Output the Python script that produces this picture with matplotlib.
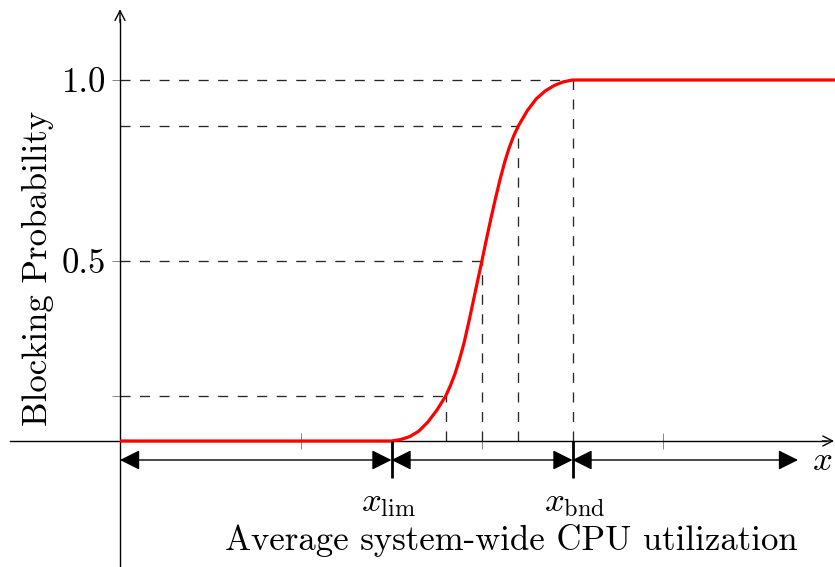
import matplotlib
matplotlib.use("Agg")
import matplotlib.pyplot as plt

plt.rcParams['font.family'] = 'serif'
plt.rcParams['font.serif'] = ['cmr10']
plt.rcParams['mathtext.fontset'] = 'cm'
plt.rcParams['axes.formatter.use_mathtext'] = True

# blocking probability vs. average utilization (x in arbitrary units)
curve_x = [0.0, 1.5, 1.55, 1.6, 1.65, 1.7, 1.75, 1.8, 1.825, 1.85, 1.875, 1.9,
           1.925, 1.95, 1.975, 2.0, 2.025, 2.05, 2.075, 2.1, 2.125, 2.15, 2.175,
           2.2, 2.25, 2.3, 2.35, 2.4, 2.45, 2.5, 3.95]
curve_y = [0.0, 0.0, 0.004, 0.012, 0.027, 0.052, 0.085, 0.125, 0.153, 0.185, 0.225, 0.27,
           0.325, 0.383, 0.442, 0.5, 0.56, 0.618, 0.673, 0.725, 0.772, 0.812, 0.845,
           0.872, 0.915, 0.948, 0.97, 0.985, 0.995, 1.0, 1.0]

# guide points marked with dashed projections onto both axes
guide_x = [1.8, 2.0, 2.2, 2.5]
guide_y = [0.125, 0.5, 0.872, 1.0]

x_lim = 1.5
x_bnd = 2.5
x_end = 3.746

yticks = [0.125, 0.5, 1.0]
ytick_labels = ['', '0.5', '1.0']
xticks = [1, 2, 3]

FS = 25

fig = plt.figure(figsize=(8.35, 5.67), dpi=100)
ax = fig.add_axes([0, 0, 1, 1])
ax.set_xlim(-120 / 181, 715 / 181)
ax.set_ylim(-126 / 361, 441 / 361)
ax.patch.set_alpha(0)

# axes through the origin
for side in ['top', 'right']:
    ax.spines[side].set_visible(False)
ax.spines['left'].set_position(('data', 0))
ax.spines['bottom'].set_position(('data', 0))
ax.spines['left'].set_bounds(-126 / 361, 1.17)
ax.spines['bottom'].set_bounds(-110 / 181, 3.9)
for side in ['left', 'bottom']:
    ax.spines[side].set_linewidth(1.0)

ax.annotate('', xy=(0, 1.196), xytext=(0, 1.16),
            arrowprops=dict(arrowstyle='->,head_length=7,head_width=3.6',
                            mutation_scale=1, lw=1.0, color='black',
                            shrinkA=0, shrinkB=0))
ax.annotate('', xy=(3.945, 0), xytext=(3.88, 0),
            arrowprops=dict(arrowstyle='->,head_length=7,head_width=3.6',
                            mutation_scale=1, lw=1.0, color='black',
                            shrinkA=0, shrinkB=0))

ax.set_xticks(xticks)
ax.set_xticklabels([])
ax.set_yticks(yticks)
ax.set_yticklabels(ytick_labels, fontsize=FS)
ax.tick_params(axis='both', direction='inout', length=12, width=0.6,
               color='0.45')
ax.tick_params(axis='y', pad=4)

# dashed projections
dash = (0, (7.6, 7.2))
ax.hlines(guide_y, 0, guide_x, colors='0.15', linewidth=0.95, linestyles=[dash])
ax.vlines(guide_x, 0, guide_y, colors='0.15', linewidth=0.95, linestyles=[dash])

ax.plot(curve_x, curve_y, color='#ff0000', linewidth=2.3, solid_capstyle='butt',
        solid_joinstyle='round', zorder=5)

# dimension arrows below the axis
y_dim = -19 / 361
head = '<|-|>,head_length=12.2,head_width=6.1'
for a, b in [(0, x_lim), (x_lim, x_bnd), (x_bnd, x_end)]:
    ax.annotate('', xy=(b, y_dim), xytext=(a, y_dim),
                arrowprops=dict(arrowstyle=head, mutation_scale=1, lw=1.0,
                                color='black', shrinkA=0, shrinkB=0))
ax.vlines([x_lim, x_bnd], -37 / 361, 0, colors='black', linewidth=2.0, zorder=6)

ax.text(x_lim - 0.015, -70 / 361, r'$x_{\mathrm{lim}}$', fontsize=FS, ha='center',
        va='baseline')
ax.text(x_bnd + 0.01, -70 / 361, r'$x_{\mathrm{bnd}}$', fontsize=FS, ha='center',
        va='baseline')
ax.text(3.878, -29 / 361, r'$x$', fontsize=FS, ha='center', va='baseline')

ax.text(2.16, -109 / 361, 'Average system-wide CPU utilization', fontsize=FS,
        ha='center', va='baseline')
ax.text(-0.453, 0.479, 'Blocking Probability', fontsize=FS, rotation=90,
        ha='center', va='center')

fig.savefig('out.png', dpi=100)
